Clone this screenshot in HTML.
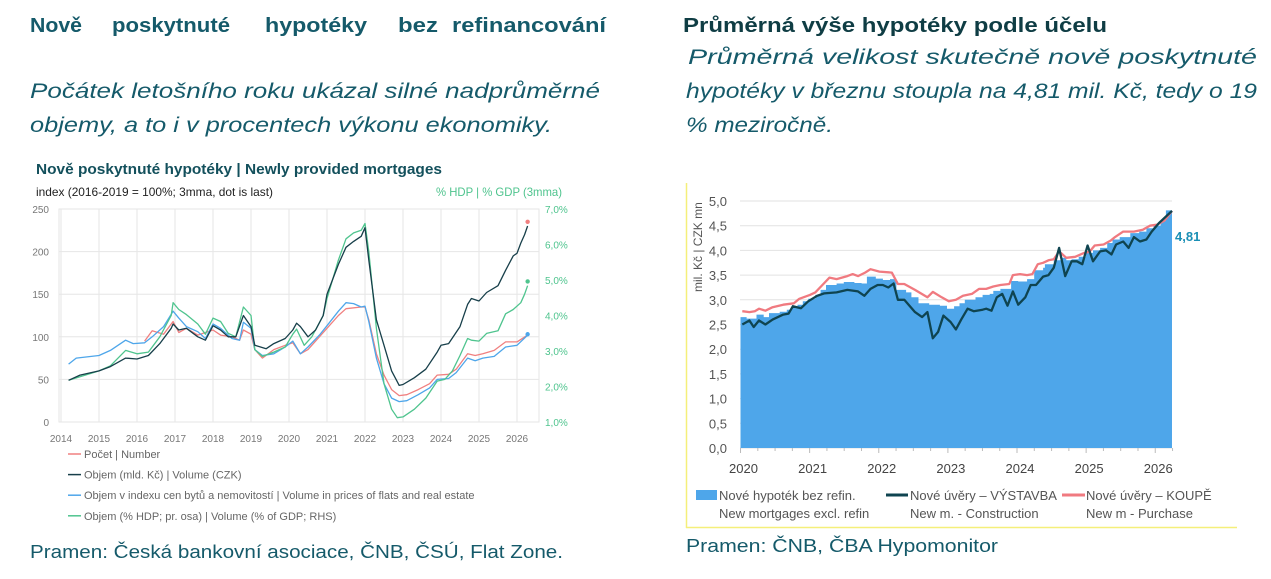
<!DOCTYPE html>
<html><head><meta charset="utf-8"><style>
html,body{margin:0;padding:0;background:#fff;width:1271px;height:579px;overflow:hidden}
svg{display:block;font-family:"Liberation Sans",sans-serif}
</style></head><body>
<svg id="s" width="1271" height="579" viewBox="0 0 1271 579" xmlns="http://www.w3.org/2000/svg">
<g fill="#155a6a" font-size="20" font-weight="bold">
<text x="30" y="32" textLength="52" lengthAdjust="spacingAndGlyphs">Nově</text>
<text x="112" y="32" textLength="118" lengthAdjust="spacingAndGlyphs">poskytnuté</text>
<text x="265" y="32" textLength="102" lengthAdjust="spacingAndGlyphs">hypotéky</text>
<text x="398" y="32" textLength="40" lengthAdjust="spacingAndGlyphs">bez</text>
<text x="452" y="32" textLength="154" lengthAdjust="spacingAndGlyphs">refinancování</text>
</g>
<g fill="#155a6a">
<text x="30" y="98" font-size="21" font-style="italic" textLength="570" lengthAdjust="spacingAndGlyphs">Počátek letošního roku ukázal silné nadprůměrné</text>
<text x="30" y="132" font-size="21" font-style="italic" textLength="522" lengthAdjust="spacingAndGlyphs">objemy, a to i v procentech výkonu ekonomiky.</text>
<text x="688" y="64" font-size="21" font-style="italic" textLength="569" lengthAdjust="spacingAndGlyphs">Průměrná velikost skutečně nově poskytnuté</text>
<text x="686" y="98" font-size="21" font-style="italic" textLength="571" lengthAdjust="spacingAndGlyphs">hypotéky v březnu stoupla na 4,81 mil. Kč, tedy o 19</text>
<text x="686" y="132" font-size="21" font-style="italic" textLength="147" lengthAdjust="spacingAndGlyphs">% meziročně.</text>
<text x="30" y="558" font-size="18" textLength="533" lengthAdjust="spacingAndGlyphs">Pramen: Česká bankovní asociace, ČNB, ČSÚ, Flat Zone.</text>
<text x="686" y="552" font-size="18" textLength="312" lengthAdjust="spacingAndGlyphs">Pramen: ČNB, ČBA Hypomonitor</text>
</g>
<text x="683" y="32" font-size="20" font-weight="bold" fill="#0f3d44" textLength="424" lengthAdjust="spacingAndGlyphs">Průměrná výše hypotéky podle účelu</text>

<text x="36" y="174" font-size="15" font-weight="bold" fill="#13505c" textLength="406" lengthAdjust="spacingAndGlyphs">Nově poskytnuté hypotéky | Newly provided mortgages</text>
<text x="36" y="196" font-size="12" fill="#222" textLength="237" lengthAdjust="spacingAndGlyphs">index (2016-2019 = 100%; 3mma, dot is last)</text>
<text x="436" y="196" font-size="12" fill="#4fc48e" textLength="126" lengthAdjust="spacingAndGlyphs">% HDP | % GDP (3mma)</text>
<g id="L"></g>
<g id="R"></g>
<line x1="686.5" y1="183" x2="686.5" y2="528" stroke="#f5ef7a" stroke-width="1.5"/>
<line x1="686" y1="527.5" x2="1237" y2="527.5" stroke="#f5ef7a" stroke-width="1.5"/>
</svg>
<script>
const NS="http://www.w3.org/2000/svg";
function el(p,t,a,txt){const e=document.createElementNS(NS,t);for(const k in a)e.setAttribute(k,a[k]);if(txt!=null)e.textContent=txt;p.appendChild(e);return e;}
const L=document.getElementById('L');
const lx=y=>61+(y-2014)*38.0, ly=v=>422-v*0.852;
el(L,'rect',{x:59,y:209,width:480,height:213,fill:'none',stroke:'#e6e6e6'});
for(let v=0;v<=250;v+=50){el(L,'line',{x1:59,x2:539,y1:ly(v),y2:ly(v),stroke:'#e6e6e6'});
 el(L,'text',{x:49,y:ly(v)+4,'font-size':10,'text-anchor':'end',fill:'#777'},v);}
for(let y=2014;y<=2026;y++){el(L,'line',{x1:lx(y),x2:lx(y),y1:209,y2:422,stroke:'#e6e6e6'});
 el(L,'text',{x:lx(y),y:442,'font-size':10,'text-anchor':'middle',fill:'#777'},y);}
['7,0%','6,0%','5,0%','4,0%','3,0%','2,0%','1,0%'].forEach((t,i)=>el(L,'text',{x:545,y:213+i*35.5,'font-size':10,fill:'#4fc48e'},t));
function lpath(d,c){let s='';for(let i=0;i<d.length;i+=2)s+=(i?'L':'M')+lx(d[i]).toFixed(1)+','+ly(d[i+1]).toFixed(1);el(L,'path',{d:s,fill:'none',stroke:c,'stroke-width':1.3,'stroke-linejoin':'round'});}
const pink=[2016.2,95,2016.4,107,2016.7,103,2016.95,118,2017.1,105,2017.3,110,2017.6,102,2017.8,105,2018,108,2018.2,102,2018.5,100,2018.7,96,2018.8,108,2019,103,2019.1,85,2019.3,75,2019.6,85,2019.9,90,2020.1,93,2020.3,80,2020.5,85,2020.8,100,2021,110,2021.3,125,2021.5,133,2021.9,135,2022,135,2022.1,120,2022.3,80,2022.5,55,2022.7,38,2022.9,31,2023.1,32,2023.4,38,2023.7,45,2023.9,55,2024.2,56,2024.4,62,2024.7,80,2024.9,78,2025.1,80,2025.4,84,2025.7,94,2026,94,2026.28,102];
const blue=[2014.2,68,2014.4,75,2015,78,2015.3,84,2015.7,96,2015.9,92,2016.2,93,2016.4,100,2016.7,112,2016.95,130,2017.1,122,2017.3,112,2017.6,106,2017.8,98,2018,115,2018.2,110,2018.5,98,2018.7,96,2018.8,117,2019,110,2019.1,85,2019.3,78,2019.6,80,2019.9,88,2020.1,95,2020.3,80,2020.5,88,2020.8,102,2021,113,2021.3,130,2021.5,140,2021.7,139,2021.9,135,2022,136,2022.1,118,2022.3,75,2022.5,45,2022.7,28,2022.9,24,2023.1,25,2023.4,32,2023.7,40,2023.9,50,2024.2,51,2024.4,58,2024.7,75,2024.9,72,2025.1,75,2025.4,77,2025.7,88,2026,90,2026.28,102];
const green=[2014.2,49,2015,60,2015.3,66,2015.7,84,2016,80,2016.3,82,2016.6,100,2016.9,125,2016.95,140,2017.1,132,2017.3,126,2017.6,115,2017.8,103,2018,122,2018.2,118,2018.4,104,2018.6,100,2018.8,135,2019,125,2019.1,85,2019.3,77,2019.6,82,2019.9,88,2020.1,103,2020.2,109,2020.4,90,2020.6,100,2020.9,125,2021,145,2021.3,190,2021.5,215,2021.7,222,2021.9,225,2022,233,2022.1,200,2022.3,110,2022.5,45,2022.7,15,2022.85,5,2023,6,2023.3,15,2023.6,28,2023.9,48,2024.1,50,2024.3,60,2024.5,78,2024.7,98,2024.8,96,2025,95,2025.2,104,2025.5,107,2025.7,127,2025.9,132,2026.1,140,2026.2,150,2026.28,160];
const dark=[2014.2,49,2014.5,55,2015,60,2015.3,65,2015.7,75,2016,74,2016.3,78,2016.6,92,2016.9,110,2016.95,115,2017.1,108,2017.3,110,2017.6,100,2017.8,96,2018,113,2018.2,108,2018.4,100,2018.6,100,2018.8,125,2019,112,2019.1,90,2019.4,86,2019.6,92,2019.9,98,2020.1,108,2020.2,116,2020.3,112,2020.5,100,2020.7,108,2020.9,125,2021,150,2021.3,185,2021.5,205,2021.7,212,2021.9,218,2022,228,2022.1,190,2022.3,120,2022.5,90,2022.7,60,2022.9,43,2023,44,2023.3,52,2023.6,62,2023.9,82,2024,90,2024.2,92,2024.5,112,2024.7,138,2024.8,145,2025,142,2025.2,152,2025.5,160,2025.7,178,2025.9,195,2026,198,2026.1,210,2026.2,220,2026.28,230];
lpath(pink,'#f08080');lpath(blue,'#4ea6ea');lpath(green,'#4fc48e');lpath(dark,'#173f4a');
el(L,'circle',{cx:lx(2026.28),cy:ly(235),r:2.2,fill:'#f08080'});
el(L,'circle',{cx:lx(2026.28),cy:ly(165),r:2.2,fill:'#4fc48e'});
el(L,'circle',{cx:lx(2026.28),cy:ly(103),r:2.2,fill:'#4ea6ea'});
[['#f08080','Počet | Number'],['#173f4a','Objem (mld. Kč) | Volume (CZK)'],['#4ea6ea','Objem v indexu cen bytů a nemovitostí | Volume in prices of flats and real estate'],['#4fc48e','Objem (% HDP; pr. osa) | Volume (% of GDP; RHS)']].forEach((a,i)=>{const y=454+i*20.6;
 el(L,'line',{x1:68,x2:81,y1:y,y2:y,stroke:a[0],'stroke-width':1.5});
 el(L,'text',{x:84,y:y+4,'font-size':11,fill:'#666'},a[1]);});
// RIGHT
const R=document.getElementById('R');
const rx=z=>680+z*0.356, ry=v=>448-v*49.4;
for(let v=0;v<=10;v++){const y=ry(v/2);el(R,'line',{x1:740,x2:1172,y1:y,y2:y,stroke:'#e2e2e2'});
 el(R,'text',{x:727,y:y+5,'font-size':13,'text-anchor':'end',fill:'#555'},(v/2).toFixed(1).replace('.',','));}
el(R,'text',{x:0,y:0,'font-size':12,fill:'#555',transform:'translate(702,292) rotate(-90)'},'mil. Kč  |  CZK mn');
const area=[170,2.65,187,2.62,215,2.7,235,2.65,250,2.73,280,2.76,300,2.8,315,2.85,330,2.9,345,2.97,360,3.02,380,3.1,395,3.2,410,3.3,440,3.33,460,3.36,490,3.34,510,3.33,525,3.47,550,3.43,570,3.4,590,3.42,608,3.2,635,3.15,650,3.05,670,2.93,700,2.9,730,2.88,750,2.82,770,2.87,785,2.93,800,3.0,830,3.05,850,3.1,870,3.12,880,3.18,900,3.22,930,3.38,950,3.37,975,3.42,995,3.6,1020,3.65,1025,3.72,1050,3.8,1070,3.85,1085,3.8,1100,3.82,1120,3.87,1140,3.95,1160,4.0,1180,4.05,1200,4.15,1215,4.22,1235,4.27,1265,4.35,1290,4.38,1310,4.45,1330,4.5,1350,4.6,1365,4.81];
let s='M'+rx(170)+','+ry(0);
for(let i=0;i<area.length;i+=2){const x=rx(area[i]).toFixed(1);const nx=i+2<area.length?rx(area[i+2]).toFixed(1):rx(1382).toFixed(1);s+='L'+x+','+ry(area[i+1]).toFixed(1)+'L'+nx+','+ry(area[i+1]).toFixed(1);}
s+='L'+rx(1382)+','+ry(0)+'Z';
el(R,'path',{d:s,fill:'#4ea6ea'});
const t0=rx(170),t1=rx(1335);
for(let i=0;i<=25;i++){const x=t0+i*(t1-t0)/24;if(x>1173)break;el(R,'line',{x1:x,x2:x,y1:448,y2:(i%4==0)?453:451,stroke:'#bbb'});}
for(let i=0;i<=6;i++)el(R,'text',{x:t0+i*(t1-t0)/6+3,y:473,'font-size':13,'text-anchor':'middle',fill:'#444'},2020+i);
function rpath(d,c,w){let s='';for(let i=0;i<d.length;i+=2)s+=(i?'L':'M')+rx(d[i]).toFixed(1)+','+ry(d[i+1]).toFixed(1);el(R,'path',{d:s,fill:'none',stroke:c,'stroke-width':w,'stroke-linejoin':'round'});}
const rp=[175,2.77,195,2.75,210,2.77,222,2.82,240,2.78,260,2.85,290,2.9,320,2.93,335,3.02,365,3.1,380,3.15,400,3.3,420,3.45,440,3.42,470,3.48,485,3.52,500,3.48,520,3.55,535,3.62,560,3.57,595,3.55,612,3.32,630,3.32,660,3.2,695,3.05,710,3.16,735,3.05,755,2.97,775,3.0,795,3.08,820,3.12,840,3.22,860,3.22,880,3.27,900,3.3,925,3.32,935,3.5,955,3.52,975,3.5,990,3.52,1005,3.72,1020,3.75,1035,3.8,1050,3.82,1065,3.98,1085,3.85,1110,3.87,1135,3.95,1150,3.97,1165,4.1,1190,4.12,1210,4.2,1220,4.26,1245,4.38,1275,4.38,1300,4.42,1320,4.5,1340,4.52,1360,4.6,1382,4.8];
const rd=[175,2.5,195,2.58,207,2.45,222,2.58,240,2.5,260,2.6,290,2.7,305,2.72,317,2.87,340,2.83,360,2.97,385,3.08,405,3.13,440,3.15,470,3.2,500,3.17,518,3.08,535,3.22,555,3.3,570,3.3,585,3.25,600,3.33,612,3.0,630,3.0,660,2.75,680,2.65,695,2.75,710,2.22,725,2.35,740,2.68,760,2.55,775,2.4,790,2.6,808,2.82,825,2.77,850,2.8,860,2.82,875,2.78,890,3.05,905,3.12,920,2.88,935,3.17,950,2.9,970,3.05,985,3.3,1000,3.3,1020,3.47,1035,3.5,1050,3.65,1065,4.05,1082,3.48,1100,3.78,1115,3.78,1130,3.72,1145,4.1,1160,3.78,1180,3.98,1197,4.0,1212,3.92,1225,4.12,1245,4.18,1260,4.05,1275,4.27,1292,4.18,1310,4.22,1325,4.38,1345,4.55,1382,4.8];
rpath(rp,'#f07a80',2.3);rpath(rd,'#0f4450',2.3);
el(R,'text',{x:1175,y:241,'font-size':13,'font-weight':'bold',fill:'#1a8fb5'},'4,81');
el(R,'rect',{x:696,y:490,width:21,height:10,fill:'#4ea6ea'});
el(R,'text',{x:719,y:500,'font-size':13,fill:'#555'},'Nové hypoték bez refin.');
el(R,'text',{x:719,y:518,'font-size':13,fill:'#555'},'New mortgages excl. refin');
el(R,'line',{x1:886,x2:908,y1:495,y2:495,stroke:'#0f4450','stroke-width':3});
el(R,'text',{x:910,y:500,'font-size':13,fill:'#555'},'Nové úvěry – VÝSTAVBA');
el(R,'text',{x:910,y:518,'font-size':13,fill:'#555'},'New m. - Construction');
el(R,'line',{x1:1062,x2:1085,y1:495,y2:495,stroke:'#f07a80','stroke-width':3});
el(R,'text',{x:1086,y:500,'font-size':13,fill:'#555'},'Nové úvěry – KOUPĚ');
el(R,'text',{x:1086,y:518,'font-size':13,fill:'#555'},'New m - Purchase');
</script>
</body></html>
